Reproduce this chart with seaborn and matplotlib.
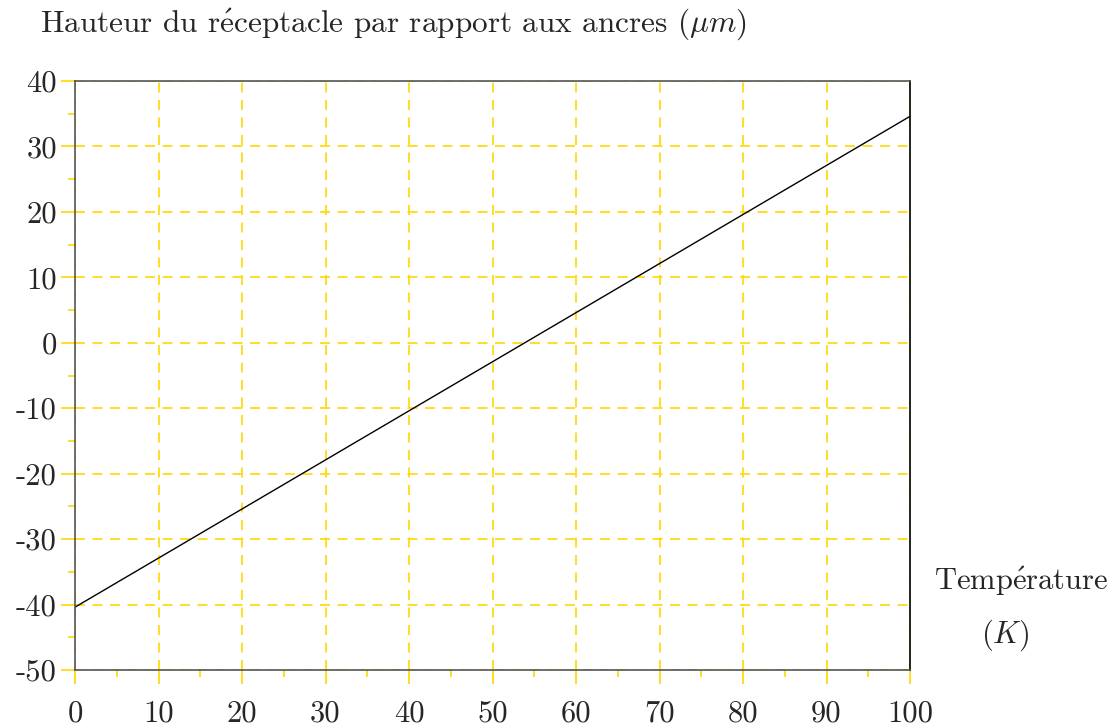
import numpy as np
import pandas as pd
import matplotlib
matplotlib.use("Agg")
import matplotlib.pyplot as plt
from matplotlib.ticker import MultipleLocator, FixedLocator
import seaborn as sns

# values
temperature = [0, 100]
hauteur = [-40.4, 34.6]
xticks = [0, 10, 20, 30, 40, 50, 60, 70, 80, 90, 100]
yticks = [-50, -40, -30, -20, -10, 0, 10, 20, 30, 40]

data = pd.DataFrame({"T": temperature, "h": hauteur})

sns.set_style("white")
plt.rcParams['font.family'] = ['cmr10', 'DejaVu Serif']
plt.rcParams['mathtext.fontset'] = 'cm'
plt.rcParams['axes.unicode_minus'] = False

yellow = "#FFD700"
fs = 22

fig = plt.figure(figsize=(11.17, 7.27), dpi=100)
ax = fig.add_axes([75/1117, 1-670/727, (910-75)/1117, (670-81)/727])

sns.lineplot(data=data, x="T", y="h", ax=ax, color="black", linewidth=1.0)

ax.set_xlim(0, 100)
ax.set_ylim(-50, 40)
ax.xaxis.set_major_locator(FixedLocator(xticks))
ax.yaxis.set_major_locator(FixedLocator(yticks))
ax.xaxis.set_minor_locator(MultipleLocator(5))
ax.yaxis.set_minor_locator(MultipleLocator(5))
ax.set_xticklabels([str(v) for v in xticks], fontsize=fs)
ax.set_yticklabels([str(v) for v in yticks], fontsize=fs)

ax.tick_params(which="major", direction="out", length=10, width=1.2, color=yellow,
               pad=12, bottom=True, left=True)
ax.tick_params(which="minor", direction="out", length=5, width=1.2, color=yellow,
               bottom=True, left=True)
ax.tick_params(axis="y", which="major", pad=3)

ax.grid(True, which="major", color=yellow, linestyle=(0, (6, 4.5)), linewidth=1.2)
ax.set_axisbelow(True)

for side in ["left", "top", "bottom"]:
    ax.spines[side].set_color("#555555")
    ax.spines[side].set_linewidth(1.2)
ax.spines["right"].set_color("black")
ax.spines["right"].set_linewidth(1.2)

ax.set_xlabel("")
ax.set_ylabel("")

# é drawn through mathtext, cmr10 has no proper glyph for it
fig.text(40/1117, 1-32/727,
         r"Hauteur du r$\mathrm{\acute{e}}$ceptacle par rapport aux ancres ($\mu m$)",
         fontsize=22.5, ha="left", va="baseline")
fig.text(1021/1117, 1-590/727, r"Temp$\mathrm{\acute{e}}$rature", fontsize=fs,
         ha="center", va="baseline")
fig.text(1005/1117, 1-643/727, r"$(K)$", fontsize=fs, ha="center", va="baseline")

fig.savefig("out.png", dpi=100)
